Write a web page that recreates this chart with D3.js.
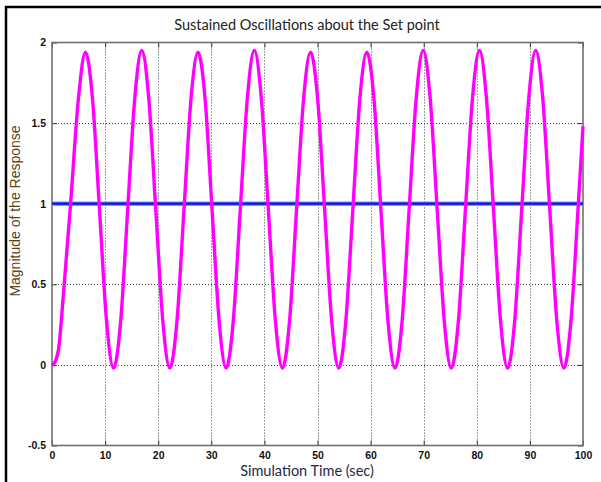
<!DOCTYPE html>
<html>
<head>
<meta charset="utf-8">
<script src="https://cdn.jsdelivr.net/npm/d3@7"></script>
<style>
  html, body { margin: 0; padding: 0; background: #fff; }
  svg { display: block; }
</style>
</head>
<body>
<svg id="chart" width="601" height="482"></svg>
<script>
// Time axis (seconds) and response samples of the oscillating loop
const timeSec = [
  0, 0.6, 1.2, 2.3, 3.5, 4.97,
  6.3, 7.63, 8.95, 10.28, 11.6, 12.93, 14.25, 15.58,
  16.9, 18.23, 19.55, 20.88, 22.2, 23.53, 24.85, 26.18,
  27.5, 28.83, 30.15, 31.48, 32.8, 34.13, 35.45, 36.78,
  38.1, 39.43, 40.75, 42.08, 43.4, 44.73, 46.05, 47.38,
  48.7, 50.03, 51.35, 52.68, 54.0, 55.33, 56.65, 57.98,
  59.3, 60.63, 61.95, 63.28, 64.6, 65.93, 67.25, 68.58,
  69.9, 71.23, 72.55, 73.88, 75.2, 76.53, 77.85, 79.18,
  80.5, 81.83, 83.15, 84.48, 85.8, 87.13, 88.45, 89.78,
  91.1, 92.43, 93.75, 95.08, 96.4, 97.73, 99.05, 100
];
const response = [
  0, 0.02, 0.09, 0.5, 1.0, 1.65,
  1.94, 1.65, 0.96, 0.27, -0.02, 0.27, 0.96, 1.65,
  1.95, 1.65, 0.96, 0.27, -0.02, 0.27, 0.96, 1.65,
  1.94, 1.65, 0.96, 0.27, -0.02, 0.27, 0.96, 1.65,
  1.95, 1.65, 0.96, 0.27, -0.02, 0.27, 0.96, 1.65,
  1.94, 1.65, 0.96, 0.27, -0.02, 0.27, 0.96, 1.65,
  1.94, 1.65, 0.96, 0.27, -0.02, 0.27, 0.96, 1.65,
  1.95, 1.65, 0.96, 0.27, -0.02, 0.27, 0.96, 1.65,
  1.95, 1.65, 0.96, 0.27, -0.02, 0.27, 0.96, 1.65,
  1.95, 1.65, 0.96, 0.27, -0.02, 0.27, 0.96, 1.48
];
const setPoint = 1;

const xTicks = [0, 10, 20, 30, 40, 50, 60, 70, 80, 90, 100];
const yTicks = [-0.5, 0, 0.5, 1, 1.5, 2];
const yTickLabels = ["-0.5", "0", "0.5", "1", "1.5", "2"];

const titleText = "Sustained Oscillations about the Set point";
const xLabelText = "Simulation Time (sec)";
const yLabelText = "Magnitude of the Response";

const svg = d3.select("#chart");
const plot = { left: 52, right: 583, top: 42.5, bottom: 445.5 };

const x = d3.scaleLinear().domain([0, 100]).range([plot.left, plot.right]);
const y = d3.scaleLinear().domain([-0.5, 2]).range([plot.bottom, plot.top]);

// outer frame
svg.append("rect")
  .attr("x", 6).attr("y", 7)
  .attr("width", 700).attr("height", 600)
  .attr("fill", "#fff")
  .attr("stroke", "#000").attr("stroke-width", 2.5);

// dotted grid
const grid = svg.append("g").attr("stroke", "#222").attr("stroke-width", 1)
  .attr("stroke-dasharray", "1,2").attr("opacity", 0.85);
grid.selectAll("line.gx").data(xTicks.slice(1, -1)).join("line")
  .attr("x1", d => Math.round(x(d)) + 0.5).attr("x2", d => Math.round(x(d)) + 0.5)
  .attr("y1", plot.top).attr("y2", plot.bottom);
grid.selectAll("line.gy").data(yTicks.slice(1, -1)).join("line")
  .attr("y1", d => Math.round(y(d)) + 0.5).attr("y2", d => Math.round(y(d)) + 0.5)
  .attr("x1", plot.left).attr("x2", plot.right);

// axes with inward ticks
const axisFont = "'Liberation Sans', Arial, sans-serif";
const xAxis = svg.append("g")
  .attr("transform", `translate(0,${plot.bottom})`)
  .call(d3.axisBottom(x).tickValues(xTicks).tickSize(-5).tickPadding(6).tickFormat(d3.format("d")));
const yAxis = svg.append("g")
  .attr("transform", `translate(${plot.left},0)`)
  .call(d3.axisLeft(y).tickValues(yTicks).tickSize(-5).tickPadding(6)
    .tickFormat((d, i) => yTickLabels[i]));
svg.append("g").attr("transform", `translate(0,${plot.top})`)
  .call(d3.axisTop(x).tickValues(xTicks).tickSize(-5).tickFormat(""));
svg.append("g").attr("transform", `translate(${plot.right},0)`)
  .call(d3.axisRight(y).tickValues(yTicks).tickSize(-5).tickFormat(""));

svg.selectAll(".domain").remove();
svg.selectAll(".tick line").attr("stroke", "#333").attr("stroke-width", 1);
[xAxis, yAxis].forEach(g => g.selectAll("text")
  .attr("font-family", axisFont).attr("font-size", 10.5)
  .attr("font-weight", "bold").attr("fill", "#111"));

// box
svg.append("rect")
  .attr("x", plot.left).attr("y", plot.top)
  .attr("width", plot.right - plot.left).attr("height", plot.bottom - plot.top)
  .attr("fill", "none").attr("stroke", "#707070").attr("stroke-width", 1.6);

// set point line
svg.append("line")
  .attr("x1", x(0)).attr("x2", x(100)).attr("y1", y(setPoint)).attr("y2", y(setPoint))
  .attr("stroke", "#7d8cff").attr("stroke-width", 4.5);
svg.append("line")
  .attr("x1", x(0)).attr("x2", x(100)).attr("y1", y(setPoint)).attr("y2", y(setPoint))
  .attr("stroke", "#0a14e6").attr("stroke-width", 2.2);

// response curve
const line = d3.line()
  .x((d, i) => x(timeSec[i]))
  .y(d => y(d))
  .curve(d3.curveMonotoneX);
svg.append("path")
  .datum(response)
  .attr("d", line)
  .attr("fill", "none")
  .attr("stroke", "#ff00ff")
  .attr("stroke-width", 3.4)
  .attr("stroke-linejoin", "round");

// title and axis labels
const labelFont = "Lato, 'Open Sans', sans-serif";
svg.append("text")
  .attr("x", 307).attr("y", 30)
  .attr("text-anchor", "middle")
  .attr("font-family", labelFont).attr("font-size", 14.5)
  .attr("fill", "#222")
  .text(titleText);
svg.append("text")
  .attr("x", 307).attr("y", 476)
  .attr("text-anchor", "middle")
  .attr("font-family", labelFont).attr("font-size", 14.5)
  .attr("fill", "#1e2a44")
  .text(xLabelText);
svg.append("text")
  .attr("transform", "translate(20,211) rotate(-90)")
  .attr("text-anchor", "middle")
  .attr("font-family", axisFont).attr("font-size", 14)
  .attr("fill", "#5e3f12")
  .text(yLabelText);
</script>
</body>
</html>
